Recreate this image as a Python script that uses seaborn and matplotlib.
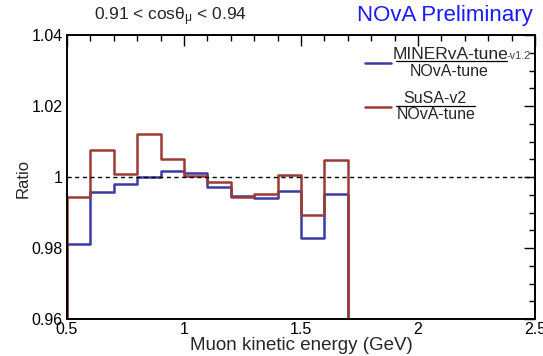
import numpy as np
import pandas as pd
import matplotlib
matplotlib.use("Agg")
import matplotlib.pyplot as plt
from matplotlib.ticker import MultipleLocator
import seaborn as sns

# Bin edges (GeV) and per-bin ratios for each model
bin_edges = [0.5, 0.6, 0.7, 0.8, 0.9, 1.0, 1.1, 1.2, 1.3, 1.4, 1.5, 1.6, 1.7]
minerva_ratio = [0.9810, 0.9958, 0.9980, 1.0000, 1.0016, 1.0012,
                 0.9973, 0.9947, 0.9940, 0.9960, 0.9828, 0.9952]
susa_ratio = [0.9944, 1.0077, 1.0008, 1.0121, 1.0051, 1.0004,
              0.9987, 0.9945, 0.9953, 1.0005, 0.9893, 1.0048]

x_ticks = [0.5, 1.0, 1.5, 2.0, 2.5]
x_tick_labels = ["0.5", "1", "1.5", "2", "2.5"]
y_ticks = [0.96, 0.98, 1.00, 1.02, 1.04]
y_tick_labels = ["0.96", "0.98", "1", "1.02", "1.04"]

blue = "#3b3ba3"
red = "#9c3a36"

sns.set_theme(style="white")
plt.rcParams["font.family"] = ["Liberation Sans", "DejaVu Sans"]

edges = np.array(bin_edges)
centers = (edges[:-1] + edges[1:]) / 2
df = pd.DataFrame({
    "energy": np.concatenate([centers, centers]),
    "ratio": np.concatenate([minerva_ratio, susa_ratio]),
    "model": ["minerva"] * len(centers) + ["susa"] * len(centers),
})

W, H = 543, 356
fig = plt.figure(figsize=(W / 100, H / 100), dpi=100)
ax = fig.add_axes([67 / W, 1 - 319 / H, 468 / W, 284 / H])

width = edges[1] - edges[0]
for model, col in [("minerva", blue), ("susa", red)]:
    sub = df[df["model"] == model]
    n_before = len(ax.collections)
    sns.histplot(data=sub, x="energy", weights="ratio",
                 binwidth=width, binrange=(edges[0], edges[-1]),
                 element="step", fill=True, color=col, linewidth=1.8, ax=ax)
    for coll in ax.collections[n_before:]:
        coll.set_facecolor("none")
        coll.set_edgecolor(col)
        coll.set_linewidth(1.8)
        coll.set_alpha(1.0)

ax.axhline(1.0, color="black", lw=1.0, ls=(0, (3, 2.5)), zorder=1)

ax.set_xlim(0.5, 2.5)
ax.set_ylim(0.96, 1.04)
ax.set_xticks(x_ticks)
ax.set_xticklabels(x_tick_labels)
ax.set_yticks(y_ticks)
ax.set_yticklabels(y_tick_labels)
ax.xaxis.set_minor_locator(MultipleLocator(0.1))
ax.yaxis.set_minor_locator(MultipleLocator(0.005))
ax.tick_params(which="both", direction="in", top=True, right=True,
               labelsize=11.5, colors="black")
ax.tick_params(which="major", length=8, width=1.0)
ax.tick_params(which="minor", length=4, width=1.0)
ax.tick_params(axis="x", pad=2)
ax.tick_params(axis="y", pad=3)
for s in ax.spines.values():
    s.set_color("black")
    s.set_linewidth(1.4)

ax.set_xlabel("Muon kinetic energy (GeV)", fontsize=13.5)
ax.xaxis.set_label_coords(0.5, -(346 - 319) / 284, transform=ax.transAxes)
ax.xaxis.label.set_va("center")
ax.set_ylabel("Ratio", fontsize=12)
ax.yaxis.set_label_coords(-(67 - 23) / 468, (319 - 178) / 284)
ax.yaxis.label.set_va("center")

fx = lambda px: px / W
fy = lambda py: 1 - py / H

fig.text(fx(171), fy(17), r"0.91 < cos$\mathregular{\theta_{\mu}}$ < 0.94",
         fontsize=12.5, ha="center", va="center")
fig.text(fx(533), fy(16), "NOvA Preliminary", fontsize=16, color="#1a1aff",
         ha="right", va="center")

# Legend drawn as fractions
fig.add_artist(plt.Line2D([fx(365), fx(391)], [fy(63), fy(63)], color=blue, lw=1.8))
fig.add_artist(plt.Line2D([fx(396), fx(507)], [fy(60.5), fy(60.5)], color="black", lw=0.9))
fig.text(fx(451), fy(54.5), "MINERvA-tune", fontsize=12.5, ha="center", va="center")
fig.text(fx(449), fy(71), "NOvA-tune", fontsize=11.5, ha="center", va="center")
fig.text(fx(507), fy(56), "-v1.2", fontsize=7.8, ha="left", va="center", color="#444444")

fig.add_artist(plt.Line2D([fx(365), fx(391)], [fy(107), fy(107)], color=red, lw=1.8))
fig.add_artist(plt.Line2D([fx(396), fx(475)], [fy(105.5), fy(105.5)], color="black", lw=0.9))
fig.text(fx(435), fy(98.5), "SuSA-v2", fontsize=11.5, ha="center", va="center")
fig.text(fx(436), fy(114.5), "NOvA-tune", fontsize=11.5, ha="center", va="center")

fig.savefig("out.png", dpi=100)
